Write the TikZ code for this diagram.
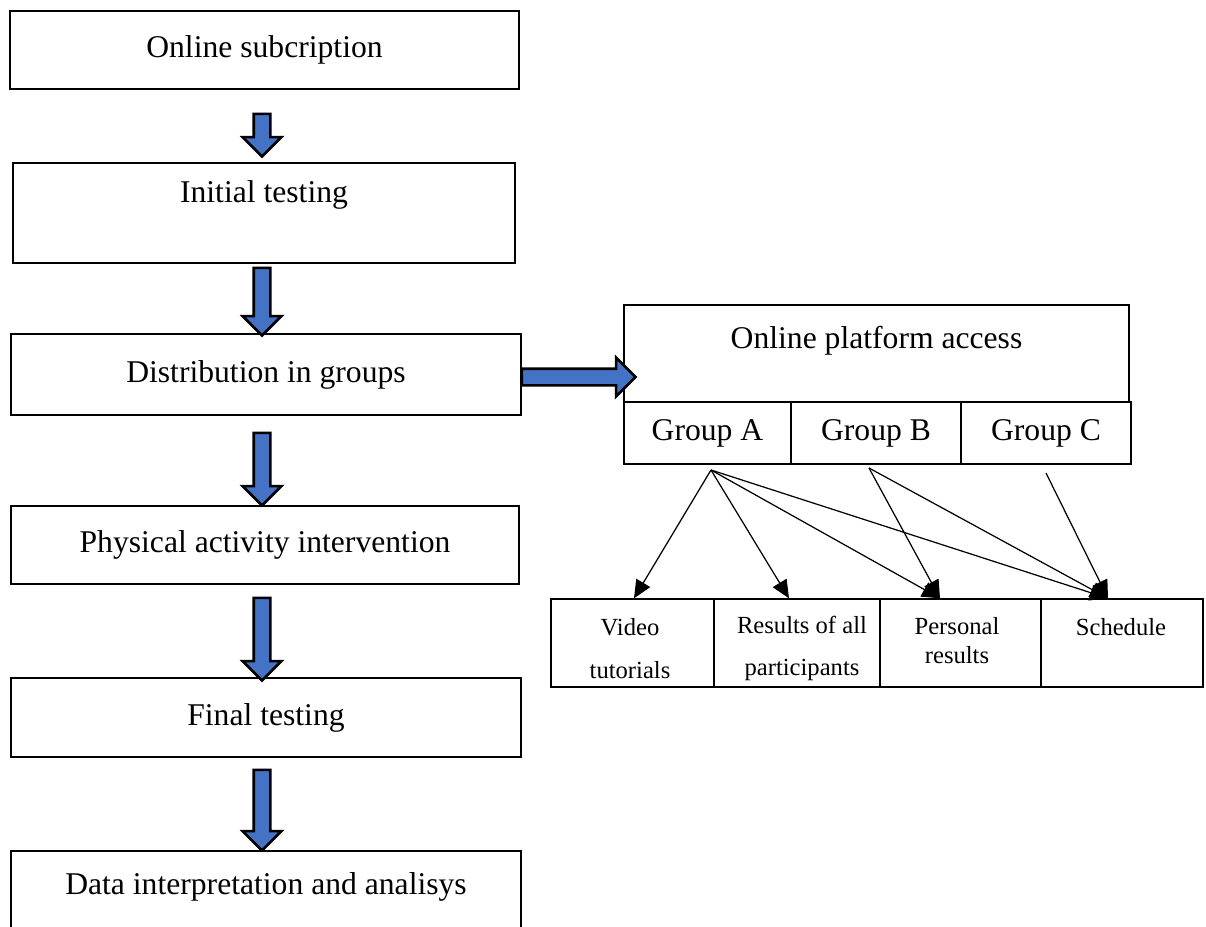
\documentclass[tikz,border=0pt]{standalone}
\usepackage{fontspec}
\setmainfont{Liberation Serif}
\usetikzlibrary{calc,arrows.meta,shapes.arrows}
\definecolor{arrowblue}{RGB}{68,114,196}
% #1 name, #2 tail, #3 tip
\newcommand{\blockarrow}[3]{%
  \path let \p1=#2, \p2=#3, \n1={veclen(\x2-\x1,\y2-\y1)} in
    node[blockarr, minimum height=\n1, rotate={atan2(\y2-\y1,\x2-\x1)}] (#1) at ($(\p1)!0.5!(\p2)$) {};}

\begin{document}
\begin{tikzpicture}[font=\fontsize{18}{21}\selectfont,
  box/.style={draw, line width=0.8pt, inner sep=0pt},
  small/.style={font=\fontsize{14}{24}\selectfont, align=center},
  blockarr/.style={single arrow, draw=black, line width=1.5pt, fill=arrowblue,
    inner xsep=0pt, inner ysep=0.14cm, single arrow head extend=0.22cm,
    single arrow tip angle=90, single arrow head indent=0pt},
  thinarr/.style={line width=0.7pt, -{Triangle[length=0.36cm,width=0.32cm]}}]
 \useasboundingbox (0,0) rectangle (24.12,-18.52);
 % left column
 \node[box, minimum width=10.18cm, minimum height=1.56cm] (sub) at (5.29,-1.00) {Online subcription};
 \node[box, minimum width=10.04cm, minimum height=2.00cm] (init) at (5.28,-4.26) {};
 \node (inittxt) at (5.28,-3.90) {Initial testing};
 \node[box, minimum width=10.20cm, minimum height=1.62cm] (distr) at (5.32,-7.49) {Distribution in groups};
 \node[box, minimum width=10.16cm, minimum height=1.56cm] (phys) at (5.30,-10.90) {Physical activity intervention};
 \node[box, minimum width=10.20cm, minimum height=1.58cm] (final) at (5.32,-14.35) {Final testing};
 \node[box, minimum width=10.20cm, minimum height=1.78cm] (data) at (5.32,-17.91) {};
 \node (datatxt) at (5.32,-17.74) {Data interpretation and analisys};
 \blockarrow{ar1}{($(sub.south)+(-0.05,-0.40)$)}{($(init.north)+(-0.04,0.20)$)}
 \blockarrow{ar2}{($(init.south)+(-0.04,0)$)}{($(distr.north)+(-0.08,0.04)$)}
 \blockarrow{ar3}{($(distr.south)+(-0.08,-0.26)$)}{($(phys.north)+(-0.06,0.08)$)}
 \blockarrow{ar4}{($(phys.south)+(-0.06,-0.18)$)}{($(final.north)+(-0.08,0.02)$)}
 \blockarrow{ar5}{($(final.south)+(-0.08,-0.16)$)}{($(data.north)+(-0.08,0.08)$)}
 % platform and groups
 \node[box, minimum width=10.10cm, minimum height=1.94cm] (platform) at (17.53,-7.07) {};
 \node (platformtxt) at (17.53,-6.82) {Online platform access};
 \blockarrow{ar6}{($(distr.east)+(-0.08,-0.05)$)}{($(platform.west |- distr.east)+(0.16,-0.05)$)}
 \node[box, minimum width=3.34cm, minimum height=1.24cm] (grpA) at (14.15,-8.66) {Group A};
 \node[box, minimum width=3.40cm, minimum height=1.24cm] (grpB) at (17.52,-8.66) {Group B};
 \node[box, minimum width=3.40cm, minimum height=1.24cm] (grpC) at (20.92,-8.66) {Group C};
 % platform contents
 \node[box, minimum width=3.26cm, minimum height=1.76cm] (video) at (12.65,-12.86) {};
 \node[box, minimum width=3.32cm, minimum height=1.76cm] (res) at (15.94,-12.86) {};
 \node[box, minimum width=3.22cm, minimum height=1.76cm] (pers) at (19.21,-12.86) {};
 \node[box, minimum width=3.24cm, minimum height=1.76cm] (sched) at (22.44,-12.86) {};
 \node[small] (videotxt) at (12.60,-12.97) {Video\\tutorials};
 \node[small] (restxt) at (16.04,-12.97) {Results of all\\participants};
 \node[small, font=\fontsize{14}{16.4}\selectfont] (perstxt) at (19.14,-12.81) {Personal\\results};
 \node[small] (schedtxt) at (22.42,-12.54) {Schedule};
 \coordinate (oA) at (14.22,-9.40);
 \coordinate (oB) at (17.38,-9.36);
 \coordinate (oC) at (20.92,-9.46);
 \draw[thinarr] (oA) -- ([xshift=0.03cm]video.north);
 \draw[thinarr] (oA) -- ([xshift=-0.16cm]res.north);
 \draw[thinarr] (oA) -- ([xshift=-0.41cm]pers.north);
 \draw[thinarr] (oA) -- ([xshift=-0.28cm]sched.north);
 \draw[thinarr] (oB) -- ([xshift=-0.41cm]pers.north);
 \draw[thinarr] (oB) -- ([xshift=-0.28cm]sched.north);
 \draw[thinarr] (oC) -- ([xshift=-0.28cm]sched.north);
\end{tikzpicture}
\end{document}
